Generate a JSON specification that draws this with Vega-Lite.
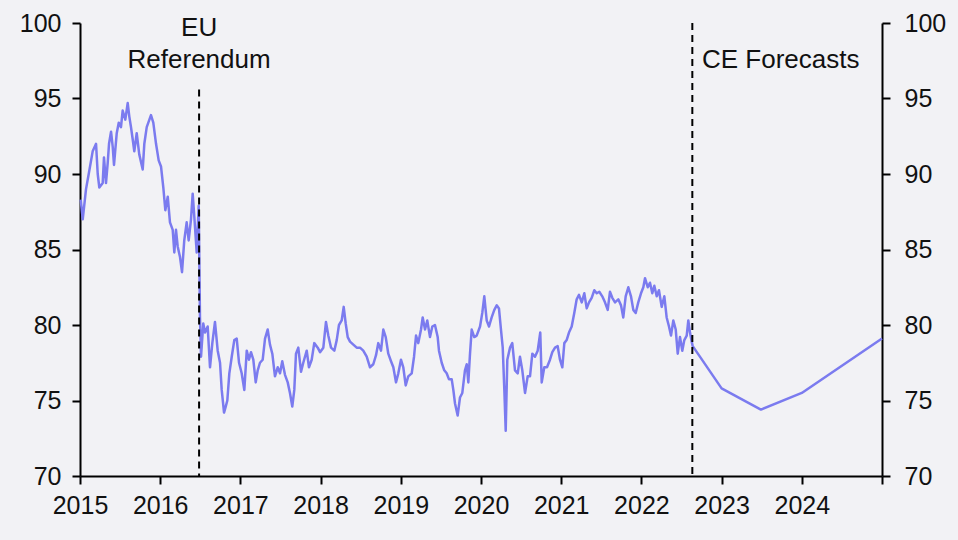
{
  "$schema": "https://vega.github.io/schema/vega-lite/v6.json",
  "width": 802,
  "height": 453,
  "autosize": {"type": "none"},
  "padding": {"left": 80, "top": 23, "right": 76, "bottom": 64},
  "background": "#f2f2f5",
  "config": {
    "view": {"stroke": null},
    "font": "Liberation Sans",
    "axis": {
      "domainColor": "#000000",
      "domainWidth": 2,
      "tickColor": "#000000",
      "tickWidth": 2,
      "tickSize": 8,
      "labelFont": "Liberation Sans",
      "labelFontSize": 25,
      "labelColor": "#111111",
      "labelPadding": 11,
      "labelFlush": false,
      "labelOverlap": false,
      "grid": false,
      "title": null
    }
  },
  "datasets": {
    "eri": [
      {"year": 2015.009, "index": 88.3}, {"year": 2015.034, "index": 87.0}, {"year": 2015.075, "index": 89.0},
      {"year": 2015.112, "index": 90.1}, {"year": 2015.158, "index": 91.5}, {"year": 2015.200, "index": 92.0},
      {"year": 2015.221, "index": 90.0}, {"year": 2015.241, "index": 89.1}, {"year": 2015.283, "index": 89.4},
      {"year": 2015.299, "index": 91.1}, {"year": 2015.324, "index": 89.4}, {"year": 2015.345, "index": 90.7},
      {"year": 2015.362, "index": 92.0}, {"year": 2015.387, "index": 92.8}, {"year": 2015.408, "index": 91.8},
      {"year": 2015.424, "index": 90.6}, {"year": 2015.458, "index": 92.7}, {"year": 2015.483, "index": 93.4},
      {"year": 2015.511, "index": 93.1}, {"year": 2015.532, "index": 94.2}, {"year": 2015.565, "index": 93.6},
      {"year": 2015.595, "index": 94.7}, {"year": 2015.615, "index": 93.8}, {"year": 2015.636, "index": 93.1},
      {"year": 2015.657, "index": 92.3}, {"year": 2015.677, "index": 91.5}, {"year": 2015.707, "index": 92.7},
      {"year": 2015.739, "index": 91.3}, {"year": 2015.782, "index": 90.3}, {"year": 2015.802, "index": 92.0},
      {"year": 2015.832, "index": 93.1}, {"year": 2015.885, "index": 93.9}, {"year": 2015.914, "index": 93.4},
      {"year": 2015.948, "index": 92.0}, {"year": 2015.981, "index": 90.9}, {"year": 2016.010, "index": 90.5},
      {"year": 2016.039, "index": 89.1}, {"year": 2016.064, "index": 87.6}, {"year": 2016.094, "index": 88.5},
      {"year": 2016.122, "index": 86.8}, {"year": 2016.156, "index": 86.3}, {"year": 2016.176, "index": 84.8},
      {"year": 2016.197, "index": 86.3}, {"year": 2016.218, "index": 85.2}, {"year": 2016.247, "index": 84.5},
      {"year": 2016.272, "index": 83.5}, {"year": 2016.300, "index": 85.6}, {"year": 2016.330, "index": 86.8},
      {"year": 2016.355, "index": 85.6}, {"year": 2016.384, "index": 87.0}, {"year": 2016.405, "index": 88.7},
      {"year": 2016.425, "index": 87.2}, {"year": 2016.455, "index": 84.8}, {"year": 2016.480, "index": 87.9},
      {"year": 2016.496, "index": 80.5}, {"year": 2016.509, "index": 77.9}, {"year": 2016.537, "index": 80.1},
      {"year": 2016.559, "index": 79.5}, {"year": 2016.592, "index": 79.9}, {"year": 2016.621, "index": 77.2},
      {"year": 2016.650, "index": 78.8}, {"year": 2016.683, "index": 80.2}, {"year": 2016.717, "index": 78.3},
      {"year": 2016.746, "index": 77.5}, {"year": 2016.767, "index": 75.7}, {"year": 2016.796, "index": 74.2},
      {"year": 2016.817, "index": 74.6}, {"year": 2016.837, "index": 75.0}, {"year": 2016.862, "index": 76.8},
      {"year": 2016.892, "index": 77.9}, {"year": 2016.924, "index": 79.0}, {"year": 2016.954, "index": 79.1},
      {"year": 2016.983, "index": 77.5}, {"year": 2017.016, "index": 76.8}, {"year": 2017.049, "index": 75.7},
      {"year": 2017.079, "index": 78.3}, {"year": 2017.107, "index": 77.7}, {"year": 2017.132, "index": 78.2},
      {"year": 2017.161, "index": 77.7}, {"year": 2017.191, "index": 76.2}, {"year": 2017.216, "index": 77.0},
      {"year": 2017.244, "index": 77.5}, {"year": 2017.278, "index": 77.7}, {"year": 2017.307, "index": 79.1},
      {"year": 2017.340, "index": 79.7}, {"year": 2017.369, "index": 78.7}, {"year": 2017.398, "index": 78.1},
      {"year": 2017.431, "index": 76.6}, {"year": 2017.465, "index": 77.2}, {"year": 2017.494, "index": 76.8},
      {"year": 2017.522, "index": 77.6}, {"year": 2017.556, "index": 76.7}, {"year": 2017.590, "index": 76.2},
      {"year": 2017.618, "index": 75.5}, {"year": 2017.647, "index": 74.6}, {"year": 2017.672, "index": 75.7},
      {"year": 2017.693, "index": 78.1}, {"year": 2017.722, "index": 78.5}, {"year": 2017.756, "index": 76.9},
      {"year": 2017.784, "index": 77.5}, {"year": 2017.827, "index": 78.3}, {"year": 2017.855, "index": 77.2},
      {"year": 2017.889, "index": 77.7}, {"year": 2017.921, "index": 78.8}, {"year": 2017.964, "index": 78.5},
      {"year": 2017.993, "index": 78.2}, {"year": 2018.034, "index": 78.5}, {"year": 2018.067, "index": 80.2},
      {"year": 2018.096, "index": 79.3}, {"year": 2018.130, "index": 78.5}, {"year": 2018.171, "index": 78.3},
      {"year": 2018.201, "index": 79.0}, {"year": 2018.229, "index": 80.0}, {"year": 2018.263, "index": 80.3},
      {"year": 2018.288, "index": 81.2}, {"year": 2018.313, "index": 80.1}, {"year": 2018.338, "index": 79.2},
      {"year": 2018.367, "index": 78.9}, {"year": 2018.408, "index": 78.7}, {"year": 2018.450, "index": 78.5},
      {"year": 2018.491, "index": 78.5}, {"year": 2018.532, "index": 78.3}, {"year": 2018.575, "index": 77.9},
      {"year": 2018.616, "index": 77.2}, {"year": 2018.657, "index": 77.4}, {"year": 2018.691, "index": 78.0},
      {"year": 2018.719, "index": 78.8}, {"year": 2018.753, "index": 78.3}, {"year": 2018.782, "index": 79.7},
      {"year": 2018.812, "index": 79.2}, {"year": 2018.844, "index": 78.1}, {"year": 2018.878, "index": 77.6},
      {"year": 2018.907, "index": 77.2}, {"year": 2018.940, "index": 76.2}, {"year": 2018.969, "index": 76.8},
      {"year": 2019.002, "index": 77.7}, {"year": 2019.031, "index": 77.2}, {"year": 2019.061, "index": 76.0},
      {"year": 2019.093, "index": 76.6}, {"year": 2019.136, "index": 76.8}, {"year": 2019.165, "index": 77.9},
      {"year": 2019.190, "index": 79.3}, {"year": 2019.218, "index": 78.8}, {"year": 2019.252, "index": 79.7},
      {"year": 2019.273, "index": 80.5}, {"year": 2019.302, "index": 79.7}, {"year": 2019.330, "index": 80.3},
      {"year": 2019.364, "index": 79.2}, {"year": 2019.393, "index": 79.9}, {"year": 2019.426, "index": 80.0},
      {"year": 2019.460, "index": 79.2}, {"year": 2019.476, "index": 78.3}, {"year": 2019.510, "index": 77.5},
      {"year": 2019.542, "index": 77.0}, {"year": 2019.572, "index": 76.8}, {"year": 2019.601, "index": 76.4},
      {"year": 2019.635, "index": 76.4}, {"year": 2019.655, "index": 75.7}, {"year": 2019.676, "index": 74.8},
      {"year": 2019.709, "index": 74.0}, {"year": 2019.738, "index": 75.2}, {"year": 2019.767, "index": 75.5},
      {"year": 2019.800, "index": 77.0}, {"year": 2019.822, "index": 77.4}, {"year": 2019.842, "index": 76.2},
      {"year": 2019.863, "index": 78.1}, {"year": 2019.884, "index": 79.7}, {"year": 2019.916, "index": 79.2},
      {"year": 2019.946, "index": 79.3}, {"year": 2019.988, "index": 79.9}, {"year": 2020.016, "index": 80.8},
      {"year": 2020.041, "index": 81.9}, {"year": 2020.071, "index": 80.3}, {"year": 2020.100, "index": 79.9},
      {"year": 2020.133, "index": 80.5}, {"year": 2020.166, "index": 81.0}, {"year": 2020.196, "index": 81.3},
      {"year": 2020.224, "index": 81.1}, {"year": 2020.249, "index": 79.7}, {"year": 2020.271, "index": 78.5},
      {"year": 2020.291, "index": 75.7}, {"year": 2020.308, "index": 73.0}, {"year": 2020.328, "index": 77.7},
      {"year": 2020.362, "index": 78.5}, {"year": 2020.390, "index": 78.8}, {"year": 2020.424, "index": 77.0},
      {"year": 2020.458, "index": 76.8}, {"year": 2020.486, "index": 77.9}, {"year": 2020.515, "index": 77.0},
      {"year": 2020.549, "index": 75.5}, {"year": 2020.582, "index": 76.6}, {"year": 2020.611, "index": 76.6},
      {"year": 2020.640, "index": 78.1}, {"year": 2020.673, "index": 77.9}, {"year": 2020.707, "index": 78.3},
      {"year": 2020.739, "index": 79.5}, {"year": 2020.757, "index": 76.2}, {"year": 2020.789, "index": 77.2},
      {"year": 2020.823, "index": 77.2}, {"year": 2020.860, "index": 77.7}, {"year": 2020.889, "index": 78.2},
      {"year": 2020.923, "index": 78.5}, {"year": 2020.956, "index": 78.6}, {"year": 2020.985, "index": 77.7},
      {"year": 2021.014, "index": 77.2}, {"year": 2021.039, "index": 78.8}, {"year": 2021.068, "index": 79.0},
      {"year": 2021.097, "index": 79.5}, {"year": 2021.131, "index": 79.9}, {"year": 2021.163, "index": 80.8},
      {"year": 2021.193, "index": 81.7}, {"year": 2021.222, "index": 82.0}, {"year": 2021.256, "index": 81.5},
      {"year": 2021.288, "index": 82.1}, {"year": 2021.318, "index": 81.1}, {"year": 2021.347, "index": 81.5},
      {"year": 2021.380, "index": 81.8}, {"year": 2021.413, "index": 82.3}, {"year": 2021.443, "index": 82.1},
      {"year": 2021.475, "index": 82.2}, {"year": 2021.512, "index": 81.9}, {"year": 2021.546, "index": 81.5},
      {"year": 2021.580, "index": 81.0}, {"year": 2021.608, "index": 82.2}, {"year": 2021.637, "index": 81.8},
      {"year": 2021.671, "index": 81.5}, {"year": 2021.712, "index": 81.7}, {"year": 2021.746, "index": 81.3},
      {"year": 2021.774, "index": 80.5}, {"year": 2021.804, "index": 81.9}, {"year": 2021.837, "index": 82.5},
      {"year": 2021.870, "index": 81.9}, {"year": 2021.899, "index": 81.0}, {"year": 2021.929, "index": 80.8},
      {"year": 2021.961, "index": 81.5}, {"year": 2021.995, "index": 82.1}, {"year": 2022.024, "index": 82.5},
      {"year": 2022.045, "index": 83.1}, {"year": 2022.079, "index": 82.5}, {"year": 2022.107, "index": 82.8},
      {"year": 2022.136, "index": 82.1}, {"year": 2022.161, "index": 82.6}, {"year": 2022.191, "index": 81.9},
      {"year": 2022.219, "index": 82.3}, {"year": 2022.253, "index": 81.2}, {"year": 2022.286, "index": 81.9},
      {"year": 2022.315, "index": 80.5}, {"year": 2022.344, "index": 79.9}, {"year": 2022.369, "index": 79.3},
      {"year": 2022.398, "index": 80.3}, {"year": 2022.428, "index": 79.7}, {"year": 2022.453, "index": 78.1},
      {"year": 2022.481, "index": 79.2}, {"year": 2022.510, "index": 78.3}, {"year": 2022.535, "index": 79.0},
      {"year": 2022.565, "index": 79.3}, {"year": 2022.585, "index": 80.3}, {"year": 2022.606, "index": 79.5},
      {"year": 2022.627, "index": 78.9}, {"year": 2022.640, "index": 78.6},
      {"year": 2023.000, "index": 75.8}, {"year": 2023.490, "index": 74.4}, {"year": 2024.000, "index": 75.5},
      {"year": 2025.000, "index": 79.1}
    ],
    "markers": [
      {"event": "EU Referendum", "year": 2016.485, "top": 95.6},
      {"event": "CE Forecasts", "year": 2022.635, "top": 100}
    ]
  },
  "layer": [
    {
      "data": {"name": "eri"},
      "mark": {"type": "line", "color": "#7b7bef", "strokeWidth": 2.5, "strokeJoin": "round"},
      "encoding": {
        "x": {
          "field": "year",
          "type": "quantitative",
          "scale": {"domain": [2015, 2025], "nice": false, "zero": false},
          "axis": {
            "values": [2015, 2016, 2017, 2018, 2019, 2020, 2021, 2022, 2023, 2024, 2025],
            "format": "d",
            "labelExpr": "datum.value >= 2025 ? '' : datum.label",
            "labelPadding": 9
          }
        },
        "y": {
          "field": "index",
          "type": "quantitative",
          "scale": {"domain": [70, 100], "nice": false, "zero": false},
          "axis": {"orient": "left", "values": [70, 75, 80, 85, 90, 95, 100], "format": "d"}
        }
      }
    },
    {
      "data": {"name": "markers"},
      "mark": {"type": "rule", "color": "#000000", "strokeWidth": 2, "strokeDash": [7, 5]},
      "encoding": {
        "x": {"field": "year", "type": "quantitative", "title": null},
        "y": {
          "field": "top",
          "type": "quantitative",
          "scale": {"domain": [70, 100], "nice": false, "zero": false},
          "axis": {"orient": "right", "values": [70, 75, 80, 85, 90, 95, 100], "format": "d", "labelPadding": 14}
        },
        "y2": {"datum": 70}
      }
    },
    {
      "data": {"values": [{"note": "EU Referendum"}]},
      "mark": {
        "type": "text",
        "text": ["EU", "Referendum"],
        "font": "Liberation Sans",
        "fontSize": 26,
        "lineHeight": 32,
        "align": "center",
        "baseline": "middle",
        "color": "#111111"
      },
      "encoding": {
        "x": {"datum": 2016.485, "type": "quantitative", "title": null},
        "y": {
          "datum": 99.65,
          "type": "quantitative",
          "scale": {"domain": [70, 100], "nice": false, "zero": false},
          "axis": null
        }
      }
    },
    {
      "data": {"values": [{"note": "CE Forecasts"}]},
      "mark": {
        "type": "text",
        "text": "CE Forecasts",
        "font": "Liberation Sans",
        "fontSize": 26,
        "align": "left",
        "baseline": "middle",
        "color": "#111111"
      },
      "encoding": {
        "x": {"datum": 2022.756, "type": "quantitative", "title": null},
        "y": {
          "datum": 97.55,
          "type": "quantitative",
          "scale": {"domain": [70, 100], "nice": false, "zero": false},
          "axis": null
        }
      }
    }
  ],
  "resolve": {"scale": {"y": "independent"}, "axis": {"y": "independent"}}
}
